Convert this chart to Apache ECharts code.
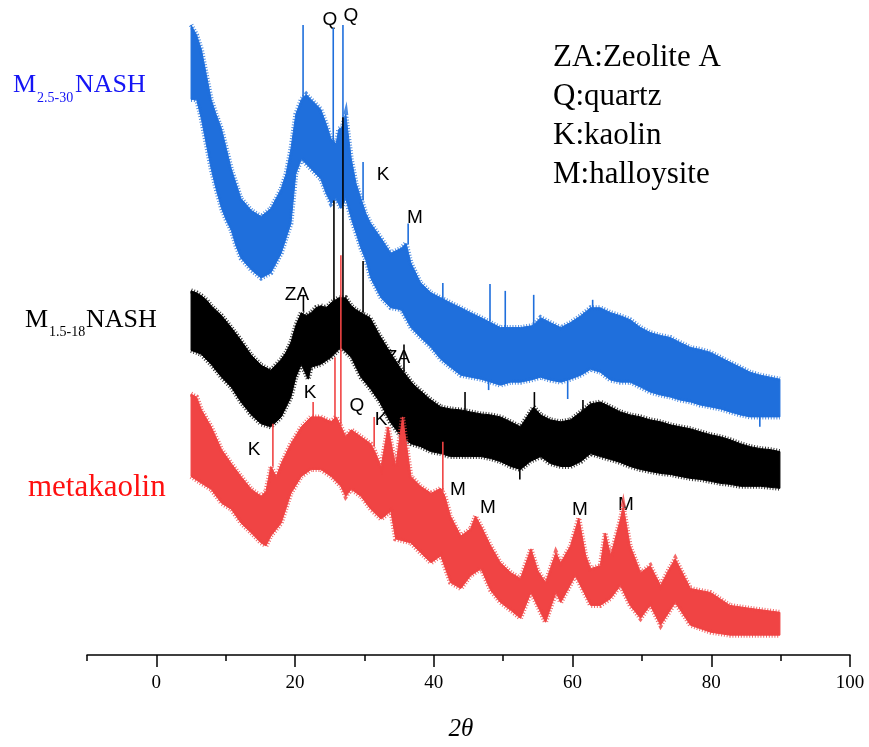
<!DOCTYPE html>
<html>
<head>
<meta charset="utf-8">
<script src="https://cdn.jsdelivr.net/npm/echarts@6/dist/echarts.min.js"></script>
<style>html,body{margin:0;padding:0;background:#fff}#c{width:869px;height:747px}</style>
</head>
<body>
<div id="c"></div>
<script>
// x: 2theta (deg); y: intensity (a.u., offset traces)
const xTicks = [0, 20, 40, 60, 80, 100];
const xMinorTicks = [-10, 10, 30, 50, 70, 90];

// envelope of the noisy band (upper / lower edge)
const blueTop = [[5.0,635],[5.8,625],[6.5,610],[7.2,585],[7.9,560],[8.6,545],[9.4,530],[10.1,510],[10.8,490],[11.5,475],[12.2,460],[13.7,448],[15.1,442],[16.5,450],[18.0,470],[18.7,485],[19.4,510],[20.1,545],[20.9,560],[21.6,565],[22.3,560],[23.0,555],[23.7,550],[24.5,535],[25.2,520],[25.9,515],[26.3,530],[26.8,532],[27.3,545],[28.1,500],[28.8,475],[29.5,460],[30.2,445],[30.9,435],[32.4,420],[33.8,405],[35.3,410],[36.0,415],[36.7,395],[38.1,375],[39.6,365],[41.0,360],[42.4,355],[43.9,350],[45.3,345],[46.8,340],[48.2,335],[49.6,330],[51.1,330],[52.5,330],[54.3,332],[55.4,340],[56.8,335],[58.3,330],[59.7,335],[61.2,342],[62.6,350],[64.0,350],[65.5,345],[66.9,342],[68.3,338],[69.8,330],[71.2,325],[72.7,322],[74.1,320],[75.5,315],[77.0,310],[78.4,308],[79.9,305],[81.3,300],[82.7,295],[84.2,290],[85.6,285],[87.1,282],[88.5,280],[89.9,278]];
const blueBottom = [[5.0,560],[5.8,560],[6.5,540],[7.2,515],[7.9,490],[8.6,470],[9.4,450],[10.1,438],[10.8,428],[11.5,412],[12.2,400],[13.7,388],[15.1,380],[16.5,385],[18.0,405],[18.7,420],[19.4,435],[20.1,485],[20.9,500],[22.3,490],[23.7,480],[24.5,465],[25.2,455],[25.9,460],[26.6,450],[27.3,460],[28.1,440],[28.8,425],[29.5,410],[30.2,398],[30.9,380],[32.4,360],[33.8,350],[35.3,348],[36.7,330],[38.1,320],[39.6,310],[41.0,298],[42.4,290],[43.9,282],[45.3,280],[46.8,278],[48.2,275],[49.6,272],[51.1,275],[52.5,275],[53.9,277],[55.4,280],[56.8,277],[58.3,275],[59.7,278],[61.2,282],[62.6,288],[64.0,285],[65.5,277],[66.9,275],[68.3,275],[69.8,270],[71.2,265],[72.7,262],[74.1,260],[75.5,257],[77.0,255],[78.4,252],[79.9,250],[81.3,248],[82.7,245],[84.2,242],[85.6,240],[87.1,240],[88.5,240],[89.9,240]];
// sharp reflections: [2theta, from, to]
const bluePeaks = [[21.15,560,635],[25.5,518,632],[26.9,532,635],[29.8,458,497],[36.3,414,435],[41.3,358,375],[48.1,336,374],[50.3,330,367],[54.4,332,363],[62.9,350,358],[47.9,276,267],[59.3,277,258],[87.0,240,230]];

const blackTop = [[5.0,367],[5.8,365],[6.5,362],[7.2,358],[7.9,352],[9.4,342],[10.8,330],[12.2,317],[13.7,302],[15.1,292],[16.5,287],[18.0,298],[18.7,305],[19.4,315],[20.1,332],[20.9,345],[21.6,342],[22.3,345],[23.0,350],[23.7,352],[24.5,350],[25.2,355],[26.3,360],[27.3,360],[28.1,352],[28.8,348],[29.5,345],[30.8,340],[32.2,322],[33.7,305],[35.1,290],[37.0,273],[39.4,258],[41.0,250],[42.4,248],[43.9,247],[45.3,245],[46.8,243],[48.2,242],[49.6,240],[51.1,235],[52.5,230],[53.9,245],[54.4,250],[55.4,242],[56.8,237],[58.3,235],[59.7,237],[61.2,245],[62.6,253],[64.0,255],[65.5,250],[66.9,245],[68.3,242],[69.8,240],[71.2,237],[72.7,235],[74.1,232],[75.5,230],[77.0,228],[78.4,225],[79.9,222],[81.3,220],[82.7,217],[84.2,213],[85.6,210],[87.1,208],[88.5,207],[89.9,205]];
const blackBottom = [[5.0,307],[5.8,305],[6.5,303],[7.9,293],[9.4,280],[10.8,270],[12.2,255],[13.7,242],[15.1,233],[16.5,230],[18.0,240],[19.4,260],[20.1,280],[20.9,293],[21.9,278],[22.3,290],[23.7,293],[25.2,300],[26.6,310],[28.1,300],[29.5,280],[30.9,268],[32.2,255],[33.7,235],[35.1,222],[36.7,213],[38.1,210],[39.6,205],[41.0,203],[42.4,200],[43.9,200],[45.3,200],[46.8,200],[48.2,198],[49.6,195],[51.1,190],[52.5,187],[53.9,195],[55.4,200],[56.8,193],[58.3,190],[59.7,190],[61.2,195],[62.6,203],[64.0,200],[65.5,197],[66.9,194],[68.3,190],[69.8,187],[71.2,185],[72.7,183],[74.1,182],[75.5,180],[77.0,178],[78.4,177],[79.9,175],[81.3,173],[82.7,172],[84.2,170],[85.6,170],[87.1,170],[88.5,169],[89.9,168]];
const blackPeaks = [[21.2,346,363],[25.6,356,458],[26.9,360,542],[29.8,345,397],[35.7,285,313],[44.5,246,265],[54.5,250,265],[61.5,247,257],[52.4,188,177]];

const redTop = [[5.0,263],[5.8,260],[6.5,247],[7.9,230],[9.4,207],[10.8,193],[12.2,180],[13.7,167],[15.1,160],[15.8,165],[16.5,190],[17.3,180],[18.0,193],[19.4,213],[20.9,230],[22.3,240],[23.7,240],[25.2,235],[25.9,240],[26.5,232],[27.3,220],[28.1,227],[29.5,220],[30.9,213],[31.5,205],[32.4,190],[33.4,230],[34.5,190],[35.5,240],[36.7,180],[38.1,170],[39.6,163],[41.0,168],[41.6,160],[42.4,140],[43.9,120],[45.3,127],[46.0,140],[46.8,130],[48.2,110],[49.6,93],[51.1,83],[52.5,77],[54.0,107],[55.0,85],[56.1,73],[57.6,103],[58.3,93],[59.7,110],[60.9,138],[61.9,100],[62.6,87],[64.0,90],[64.7,123],[65.5,100],[66.9,137],[67.3,150],[68.3,110],[69.8,83],[71.2,90],[72.7,70],[73.8,85],[74.8,97],[77.0,67],[79.9,63],[82.7,50],[85.6,47],[89.9,43]];
const redBottom = [[5.0,180],[6.5,173],[7.9,167],[9.4,153],[10.8,147],[12.2,133],[13.7,123],[15.1,113],[15.8,110],[16.5,120],[18.0,133],[19.4,163],[20.9,180],[22.3,187],[23.7,187],[25.2,180],[26.6,170],[27.3,160],[28.1,167],[29.5,160],[30.9,147],[32.4,137],[33.8,145],[34.5,117],[36.7,113],[38.1,103],[39.6,93],[41.0,100],[42.4,73],[43.9,67],[45.3,80],[46.8,87],[48.2,65],[49.6,53],[51.1,45],[52.5,37],[54.0,63],[56.1,33],[57.6,63],[58.3,53],[60.4,80],[62.6,50],[64.0,50],[65.5,57],[66.9,70],[68.3,50],[69.8,37],[71.2,50],[72.7,30],[74.8,53],[77.0,30],[79.9,23],[82.7,20],[85.6,20],[89.9,20]];
const redPeaks = [[16.8,190,233],[22.6,240,255],[25.75,237,300],[26.6,232,403],[31.4,210,240],[41.3,165,215]];

const legendLines = ['ZA:Zeolite A', 'Q:quartz', 'K:kaolin', 'M:halloysite'];
const peakLabels = [
  ['Q', 330, 20], ['Q', 351, 16], ['K', 383, 175], ['M', 415, 218],
  ['ZA', 297, 295], ['ZA', 398, 358], ['K', 310, 393], ['Q', 357, 406],
  ['K', 381, 420], ['K', 254, 450], ['M', 458, 490], ['M', 488, 508],
  ['M', 580, 510], ['M', 626, 505]
];

function trace(top, bottom, peaks, color, fringe) {
  return {
    type: 'custom', coordinateSystem: 'cartesian2d', silent: true,
    data: [[0, 0]],
    renderItem: function (params, api) {
      const t = top.map(p => api.coord(p));
      const b = bottom.map(p => api.coord(p));
      const children = [
        { type: 'polygon', shape: { points: t.concat(b.slice().reverse()) }, style: { fill: color, stroke: color, lineWidth: 1 } },
        { type: 'polyline', shape: { points: t }, style: { stroke: fringe, lineWidth: 5, lineDash: [1, 1.8], fill: null } },
        { type: 'polyline', shape: { points: b }, style: { stroke: fringe, lineWidth: 5, lineDash: [1, 1.8], fill: null } }
      ];
      peaks.forEach(pk => {
        const p1 = api.coord([pk[0], pk[1]]), p2 = api.coord([pk[0], pk[2]]);
        children.push({ type: 'line', shape: { x1: p1[0], y1: p1[1], x2: p2[0], y2: p2[1] }, style: { stroke: color, lineWidth: 1.6 } });
      });
      return { type: 'group', children: children };
    }
  };
}

const serif = '"Liberation Serif", "Times New Roman", serif';
const sans = '"Liberation Sans", Arial, sans-serif';

const graphics = [];
graphics.push({ type: 'text', left: 553, top: 38, style: { text: legendLines.join('\n'), font: '31px ' + serif, lineHeight: 39, fill: '#000' } });
peakLabels.forEach(p => graphics.push({ type: 'text', x: p[1], y: p[2], style: { text: p[0], font: '19px ' + sans, fill: '#000', align: 'center', verticalAlign: 'middle' } }));
// trace names
graphics.push({ type: 'text', x: 13, y: 85, style: { text: 'M', font: '26px ' + serif, fill: '#1515f5', verticalAlign: 'middle' } });
graphics.push({ type: 'text', x: 37, y: 98, style: { text: '2.5-30', font: '14px ' + serif, fill: '#1515f5', verticalAlign: 'middle' } });
graphics.push({ type: 'text', x: 75, y: 85, style: { text: 'NASH', font: '26px ' + serif, fill: '#1515f5', verticalAlign: 'middle' } });
graphics.push({ type: 'text', x: 25, y: 320, style: { text: 'M', font: '26px ' + serif, fill: '#000', verticalAlign: 'middle' } });
graphics.push({ type: 'text', x: 49, y: 332, style: { text: '1.5-18', font: '14px ' + serif, fill: '#000', verticalAlign: 'middle' } });
graphics.push({ type: 'text', x: 86, y: 320, style: { text: 'NASH', font: '26px ' + serif, fill: '#000', verticalAlign: 'middle' } });
graphics.push({ type: 'text', x: 28, y: 488, style: { text: 'metakaolin', font: '31px ' + serif, fill: '#ff1010', verticalAlign: 'middle' } });

const chart = echarts.init(document.getElementById('c'), null, { renderer: 'canvas' });
chart.setOption({
  animation: false,
  backgroundColor: '#fff',
  grid: { left: 87, right: 19, top: 20, bottom: 88, containLabel: false },
  xAxis: [{
    type: 'value', min: -10, max: 100, interval: 10, position: 'bottom',
    axisLine: { show: true, lineStyle: { color: '#000', width: 1.5 } },
    axisTick: { show: true, customValues: xTicks, length: 12, lineStyle: { color: '#000', width: 1.5 } },
    axisLabel: { customValues: xTicks, fontFamily: serif, fontSize: 19, color: '#000', margin: 19 },
    splitLine: { show: false },
    name: '2θ', nameLocation: 'middle', nameGap: 62,
    nameTextStyle: { fontFamily: serif, fontStyle: 'italic', fontSize: 25, color: '#000', padding: [0, 15, 0, 0] }
  }, {
    type: 'value', min: -10, max: 100, interval: 10, position: 'bottom',
    axisLine: { show: false },
    axisTick: { show: true, customValues: xMinorTicks, length: 6, lineStyle: { color: '#000', width: 1.5 } },
    axisLabel: { show: false }, splitLine: { show: false }
  }],
  yAxis: { type: 'value', min: 0, max: 640, show: false, splitLine: { show: false } },
  series: [
    trace(blueTop, blueBottom, bluePeaks, '#1f6fdc', 'rgba(31,111,220,0.8)'),
    trace(blackTop, blackBottom, blackPeaks, '#000000', 'rgba(0,0,0,0.8)'),
    trace(redTop, redBottom, redPeaks, '#f04444', 'rgba(240,68,68,0.8)')
  ],
  graphic: graphics
});
</script>
</body>
</html>
